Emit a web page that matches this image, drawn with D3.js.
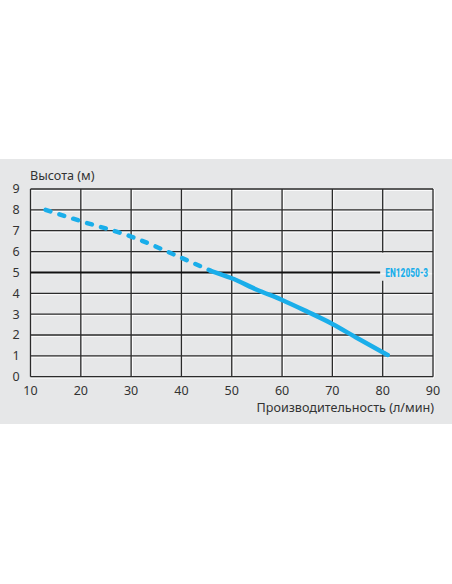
<!DOCTYPE html>
<html>
<head>
<meta charset="utf-8">
<script src="https://cdn.jsdelivr.net/npm/d3@7"></script>
<style>
  html, body { margin: 0; padding: 0; background: #ffffff; }
  svg { display: block; }
</style>
</head>
<body>
<div id="chart"></div>
<script>
// performance curve of the pump
const flowDashed = [13, 20, 30, 40, 45.8];
const headDashed = [8.0, 7.46, 6.72, 5.7, 5.08];
const flowSolid = [45.8, 50, 55, 60, 65, 70, 75, 81];
const headSolid = [5.08, 4.72, 4.17, 3.68, 3.12, 2.53, 1.84, 1.04];

const xTicks = [10, 20, 30, 40, 50, 60, 70, 80, 90];
const yTicks = [0, 1, 2, 3, 4, 5, 6, 7, 8, 9];

const normLevel = 5;
const normLabel = 'EN12050-3';
const yTitle = 'Высота (м)';
const xTitle = 'Производительность (л/мин)';

const WIDTH = 452, HEIGHT = 584;
const BLUE = '#1aaeea';
const INK = '#2b2b2b';

const svg = d3.select('#chart').append('svg')
  .attr('width', WIDTH)
  .attr('height', HEIGHT);

// grey band behind the chart
svg.append('rect')
  .attr('x', 0).attr('y', 159)
  .attr('width', WIDTH).attr('height', 265)
  .attr('fill', '#e6e7e8');

const x = d3.scaleLinear().domain([10, 90]).range([30.5, 433]);
const y = d3.scaleLinear().domain([0, 9]).range([376.7, 189]);

// vertical segments: the 80 line leaves room for the norm label
const vSegments = [];
xTicks.forEach(t => {
  if (t === 80) {
    vSegments.push([t, 9, 5.95], [t, 4.6, 0]);
  } else {
    vSegments.push([t, 9, 0]);
  }
});

const grid = svg.append('g').attr('class', 'grid');

// white highlight next to each grid line
grid.selectAll('line.hl-h')
  .data(yTicks)
  .enter().append('line')
    .attr('class', 'hl-h')
    .attr('x1', x(10)).attr('x2', x(90) + 1)
    .attr('y1', d => y(d) + 1.4).attr('y2', d => y(d) + 1.4)
    .attr('stroke', '#ffffff').attr('stroke-width', 0.9);

grid.selectAll('line.hl-v')
  .data(vSegments)
  .enter().append('line')
    .attr('class', 'hl-v')
    .attr('x1', d => x(d[0]) + 1.4).attr('x2', d => x(d[0]) + 1.4)
    .attr('y1', d => y(d[1])).attr('y2', d => y(d[2]))
    .attr('stroke', '#ffffff').attr('stroke-width', 0.9);

// horizontal grid lines (the norm level is drawn separately)
grid.selectAll('line.h')
  .data(yTicks.filter(d => d !== normLevel))
  .enter().append('line')
    .attr('class', 'h')
    .attr('x1', x(10)).attr('x2', x(90))
    .attr('y1', d => y(d)).attr('y2', d => y(d))
    .attr('stroke', INK).attr('stroke-width', 1.3);

grid.selectAll('line.v')
  .data(vSegments)
  .enter().append('line')
    .attr('class', 'v')
    .attr('x1', d => x(d[0])).attr('x2', d => x(d[0]))
    .attr('y1', d => y(d[1])).attr('y2', d => y(d[2]))
    .attr('stroke', INK).attr('stroke-width', 1.3);

// norm level line + label
svg.append('line')
  .attr('x1', x(10)).attr('x2', x(79.5))
  .attr('y1', y(normLevel)).attr('y2', y(normLevel))
  .attr('stroke', '#111').attr('stroke-width', 2);

svg.append('text')
  .attr('x', x(80.5))
  .attr('y', y(normLevel) + 4.5)
  .attr('font-family', '"Liberation Sans Narrow", "Roboto Condensed", "Arial Narrow", Roboto, sans-serif')
  .attr('font-weight', 'bold')
  .attr('font-size', 12)
  .attr('textLength', 43)
  .attr('lengthAdjust', 'spacingAndGlyphs')
  .attr('fill', BLUE)
  .text(normLabel);

// curve
const line = d3.line()
  .x(d => x(d[0]))
  .y(d => y(d[1]))
  .curve(d3.curveMonotoneX);

svg.append('path')
  .datum(d3.zip(flowDashed, headDashed))
  .attr('d', line)
  .attr('fill', 'none')
  .attr('stroke', BLUE)
  .attr('stroke-width', 4.5)
  .attr('stroke-linecap', 'round')
  .attr('stroke-dasharray', '5,9.5');

svg.append('path')
  .datum(d3.zip(flowSolid, headSolid))
  .attr('d', line)
  .attr('fill', 'none')
  .attr('stroke', BLUE)
  .attr('stroke-width', 4.5)
  .attr('stroke-linecap', 'round');

// tick labels
const FONT = '"Noto Sans", "Open Sans", sans-serif';

svg.append('g').selectAll('text')
  .data(yTicks)
  .enter().append('text')
    .attr('x', 16)
    .attr('y', d => y(d))
    .attr('dy', '0.35em')
    .attr('text-anchor', 'middle')
    .attr('font-family', FONT)
    .attr('font-size', 12.5)
    .attr('fill', '#333')
    .text(d => d);

svg.append('g').selectAll('text')
  .data(xTicks)
  .enter().append('text')
    .attr('x', d => x(d))
    .attr('y', 391)
    .attr('dy', '0.35em')
    .attr('text-anchor', 'middle')
    .attr('font-family', FONT)
    .attr('font-size', 12.5)
    .attr('fill', '#333')
    .text(d => d);

// axis titles
svg.append('text')
  .attr('x', 30)
  .attr('y', 180)
  .attr('font-family', FONT)
  .attr('font-size', 12.6)
  .attr('fill', '#333')
  .text(yTitle);

svg.append('text')
  .attr('x', 434)
  .attr('y', 412)
  .attr('text-anchor', 'end')
  .attr('font-family', FONT)
  .attr('font-size', 12.6)
  .attr('fill', '#333')
  .text(xTitle);
</script>
</body>
</html>
